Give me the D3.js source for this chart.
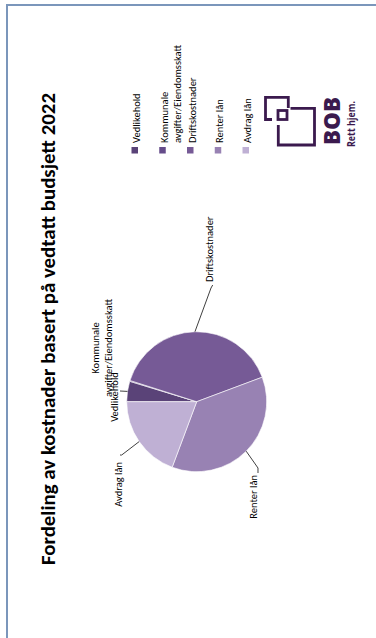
<!DOCTYPE html>
<html><head><meta charset="utf-8">
<script src="https://cdn.jsdelivr.net/npm/d3@7"></script>
<style>html,body{margin:0;padding:0;background:#fff;overflow:hidden}</style>
</head><body>
<svg id="c" width="376" height="638"></svg>
<script>
// ---- data ----
const title = "Fordeling av kostnader basert på vedtatt budsjett 2022";
const categories = ["Vedlikehold", "Kommunale avgifter/Eiendomsskatt", "Driftskostnader", "Renter lån", "Avdrag lån"];
const values = [4.7, 0.2, 39.4, 36.4, 19.3];
const legendLines = [["Vedlikehold"], ["Kommunale", "avgifter/Eiendomsskatt"], ["Driftskostnader"], ["Renter lån"], ["Avdrag lån"]];
const labelLines = [["Vedlikehold"], ["Kommunale", "avgifter/Eiendomsskatt"], ["Driftskostnader"], ["Renter lån"], ["Avdrag lån"]];
const colors = ["#5a4378", "#654c8a", "#765a96", "#9882b3", "#bfb0d4"];

// ---- layout (screen space; chart is shown rotated 90° CCW) ----
const W = 376, H = 638;
const cx = 196.7, cy = 401.7, R = 70;
const FONT = "Carlito, Lato, 'Open Sans', sans-serif";
const labelLayout = [
  {elbow: [-76.7, -10.7], end: [-76.7, -10.7], text: [-79.2, -4.7], anchor: "middle", leader: true},
  {text: [-97.7, -53.7], anchor: "middle", leader: false},
  {elbow: [14.3, -113.7], end: [16, -116.7], text: [15.8, -119.7], anchor: "start", leader: true},
  {elbow: [61.3, 66.3], end: [61.3, 71.3], text: [60.3, 73.3], anchor: "end", leader: true},
  {elbow: [-75, 53.3], end: [-76.7, 53.3], text: [-75.2, 60.3], anchor: "end", leader: true}
];
const lineGap = 13;
const labelSize = 10.5;

const svg = d3.select("#c");
svg.append("rect").attr("width", W).attr("height", H).attr("fill", "#fff");
svg.append("rect").attr("x", 7).attr("y", 5).attr("width", 420).attr("height", 700)
  .attr("fill", "none").attr("stroke", "#7b96bb").attr("stroke-width", 2);

// title
svg.append("text")
  .attr("transform", `translate(55,329) rotate(-90)`)
  .attr("text-anchor", "middle")
  .attr("font-family", FONT).attr("font-weight", "bold").attr("font-size", 20.5)
  .attr("textLength", 472).attr("lengthAdjust", "spacingAndGlyphs")
  .attr("fill", "#000").text(title);

// pie
const pie = d3.pie().sort(null).value(d => d)
  .startAngle(-Math.PI / 2).endAngle(3 * Math.PI / 2);
const arcs = pie(values);
const arc = d3.arc().innerRadius(0).outerRadius(R);
const g = svg.append("g").attr("transform", `translate(${cx},${cy})`);
g.selectAll("path.slice").data(arcs).join("path").attr("class", "slice")
  .attr("d", arc).attr("fill", (d, i) => colors[i])
  .attr("stroke", "#fff").attr("stroke-width", 0.6);

// leaders + labels
arcs.forEach((a, i) => {
  const L = labelLayout[i];
  const mid = (a.startAngle + a.endAngle) / 2;
  const p0 = [Math.sin(mid) * R, -Math.cos(mid) * R];
  if (L.leader) {
    g.append("polyline")
      .attr("points", [p0, L.elbow, L.end].map(p => p.join(",")).join(" "))
      .attr("fill", "none").attr("stroke", "#404040").attr("stroke-width", 1);
  }
  labelLines[i].forEach((ln, j) => {
    g.append("text")
      .attr("transform", `translate(${L.text[0] + j * lineGap},${L.text[1]}) rotate(-90)`)
      .attr("text-anchor", L.anchor)
      .attr("font-family", FONT).attr("font-size", labelSize).attr("fill", "#000")
      .text(ln);
  });
});

// legend
const legX = d3.scalePoint().domain(categories).range([135, 246]);
const lg = svg.append("g");
categories.forEach((c, i) => {
  const x = legX(c);
  lg.append("rect").attr("x", x - 3.5).attr("y", 147).attr("width", 6.5).attr("height", 6.5)
    .attr("fill", colors[i]);
  legendLines[i].forEach((ln, j) => {
    lg.append("text")
      .attr("transform", `translate(${x + 5 + j * 13},143) rotate(-90)`)
      .attr("text-anchor", "start")
      .attr("font-family", FONT).attr("font-size", labelSize).attr("fill", "#000")
      .text(ln);
  });
});

// BOB logo
const logo = svg.append("g").attr("fill", "none").attr("stroke", "#3b1a4e").attr("stroke-width", 2.8);
logo.append("path").attr("d", "M272,119.5 L265.5,119.5 L265.5,97.3 L288.3,97.3 L288.3,108");
logo.append("rect").attr("x", 278).attr("y", 110.5).attr("width", 9).attr("height", 9);
logo.append("path").attr("d", "M290.5,108.3 L314.5,108.3 L314.5,145 L278.3,145 L278.3,125");
svg.append("text").attr("transform", "translate(340,121) rotate(-90)")
  .attr("text-anchor", "middle").attr("font-family", "'Open Sans', Lato, sans-serif")
  .attr("font-weight", 800).attr("font-size", 22.5).attr("fill", "#3b1a4e")
  .attr("textLength", 48).attr("lengthAdjust", "spacingAndGlyphs").text("BOB");
svg.append("text").attr("transform", "translate(355,147) rotate(-90)")
  .attr("text-anchor", "start").attr("font-family", "'Open Sans', Lato, sans-serif")
  .attr("font-weight", 700).attr("font-size", 10).attr("fill", "#3b1a4e")
  .attr("textLength", 46).attr("lengthAdjust", "spacingAndGlyphs").text("Rett hjem.");
</script>
</body></html>
